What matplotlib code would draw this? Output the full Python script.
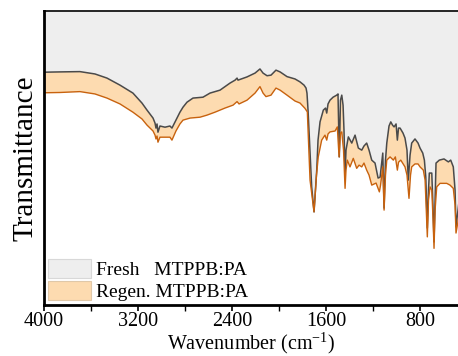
import numpy as np
import matplotlib.pyplot as plt
from matplotlib.patches import Patch
from matplotlib.ticker import MultipleLocator

plt.rcParams['font.family'] = ['Liberation Serif', 'DejaVu Serif']
plt.rcParams['mathtext.fontset'] = 'custom'
plt.rcParams['mathtext.rm'] = 'Liberation Serif'

# fresh MTPPB:PA spectrum (wavenumber, transmittance in arbitrary %)
wn_fresh = [4000, 3864, 3694, 3566, 3464, 3353, 3243, 3166, 3123, 3072, 3055, 3047, 3038, 3030,
            3013, 2970, 2928, 2911, 2877, 2843, 2817, 2783, 2732, 2647, 2587, 2502, 2417, 2374,
            2357, 2349, 2272, 2204, 2162, 2136, 2102, 2068, 2026, 1991, 1932, 1864, 1821, 1787,
            1770, 1762, 1753, 1722, 1702, 1679, 1668, 1651, 1623, 1604, 1594, 1583, 1566, 1540,
            1509, 1498, 1487, 1477, 1466, 1455, 1447, 1438, 1430, 1410, 1381, 1353, 1325, 1296,
            1277, 1254, 1234, 1211, 1183, 1157, 1140, 1117, 1106, 1094, 1083, 1064, 1049, 1034,
            1021, 1004, 993, 983, 970, 945, 928, 911, 900, 885, 871, 843, 817, 800, 777, 763,
            751, 738, 728, 721, 700, 689, 681, 672, 664, 636, 596, 559, 539, 517, 502, 494, 470]
t_fresh = [79.2, 79.3, 79.4, 78.6, 77.2, 74.8, 72.1, 68.7, 66.3, 63.6, 61.9, 60.2, 61.6, 58.8,
           60.9, 60.5, 60.9, 60.2, 62.9, 65.6, 67.3, 69.0, 70.4, 70.7, 72.1, 73.1, 75.5, 76.5,
           77.2, 76.5, 77.6, 78.9, 80.3, 78.9, 78.0, 78.2, 79.9, 79.3, 77.7, 76.9, 75.9, 74.8,
           73.8, 72.1, 66.3, 40.2, 31.7, 45.9, 56.1, 62.3, 66.3, 67.0, 65.3, 68.4, 69.7, 70.7,
           71.4, 71.8, 50.4, 69.7, 71.4, 68.0, 59.5, 44.2, 52.7, 57.2, 55.1, 57.8, 53.4, 52.7,
           54.1, 55.1, 52.7, 49.3, 48.3, 43.2, 43.5, 51.7, 33.0, 49.3, 55.1, 60.9, 62.3, 61.2,
           60.6, 61.6, 56.1, 60.2, 60.2, 58.5, 56.8, 52.7, 42.5, 51.0, 55.1, 56.5, 55.1, 53.4,
           51.7, 49.3, 43.5, 26.2, 39.1, 44.9, 44.9, 32.3, 21.5, 35.7, 48.3, 49.3, 49.7, 48.7,
           49.3, 47.0, 39.1, 26.6, 34.7]

# regenerated MTPPB:PA spectrum
wn_regen = [4000, 3864, 3694, 3566, 3464, 3353, 3243, 3166, 3123, 3072, 3055, 3047, 3038, 3030,
            3013, 2970, 2928, 2911, 2877, 2843, 2817, 2757, 2672, 2613, 2545, 2460, 2391, 2357,
            2340, 2272, 2204, 2162, 2136, 2111, 2068, 2026, 1991, 1932, 1864, 1821, 1779, 1759,
            1736, 1702, 1681, 1666, 1637, 1609, 1594, 1583, 1566, 1523, 1504, 1489, 1477, 1466,
            1451, 1438, 1430, 1419, 1396, 1368, 1339, 1319, 1296, 1277, 1254, 1234, 1211, 1174,
            1146, 1136, 1117, 1106, 1094, 1083, 1055, 1027, 1010, 993, 983, 964, 928, 911, 894,
            881, 871, 843, 817, 800, 772, 757, 738, 728, 715, 700, 689, 681, 672, 658, 630, 573,
            545, 517, 502, 494, 470]
t_regen = [72.2, 72.3, 72.6, 71.8, 70.4, 68.4, 65.6, 63.3, 61.2, 59.2, 57.8, 56.5, 57.5, 55.4,
           57.1, 57.1, 57.1, 56.1, 59.2, 61.6, 62.9, 63.6, 63.9, 64.6, 65.6, 67.0, 68.0, 69.2,
           68.4, 69.7, 72.1, 74.3, 72.1, 70.9, 71.4, 73.8, 73.1, 71.4, 69.4, 68.7, 66.9, 65.7,
           42.5, 31.7, 44.2, 50.4, 56.1, 57.8, 56.1, 58.2, 58.9, 59.2, 60.6, 50.4, 58.5, 58.9,
           52.7, 39.7, 45.9, 49.3, 47.0, 49.9, 46.5, 47.6, 47.0, 48.3, 45.9, 44.2, 40.8, 41.5,
           38.5, 40.8, 47.0, 32.3, 44.2, 49.3, 50.4, 49.3, 50.4, 45.9, 48.6, 49.3, 47.0, 44.2,
           36.3, 44.2, 47.0, 48.0, 48.0, 47.0, 45.9, 42.5, 23.2, 35.7, 40.2, 39.1, 28.9, 19.3,
           32.3, 40.2, 41.4, 41.4, 40.8, 39.7, 34.0, 24.5, 30.0]

wn_ticks = [4000, 3200, 2400, 1600, 800]

fig = plt.figure(figsize=(4.58, 3.56), dpi=100)
ax = fig.add_axes([0.096, 0.143, 0.904, 0.826])

ax.fill_between(wn_fresh, t_fresh, 100, color='#eeeeee', lw=0)
ax.fill(np.concatenate([wn_fresh, wn_regen[::-1]]),
        np.concatenate([t_fresh, t_regen[::-1]]), color='#fddbb0', lw=0)
ax.plot(wn_fresh, t_fresh, color='#4a4a4a', lw=1.1)
ax.plot(wn_regen, t_regen, color='#c8620e', lw=1.0)

ax.set_xlim(4000, 477)
ax.set_ylim(0, 100)
ax.set_xticks(wn_ticks)
ax.xaxis.set_minor_locator(MultipleLocator(400))
ax.tick_params(axis='x', which='major', length=4, width=1.2, labelsize=14.5, pad=1)
ax.tick_params(axis='x', which='minor', length=4, width=1.0)
ax.set_yticks([])

for s in ['left', 'bottom']:
    ax.spines[s].set_linewidth(2.0)
ax.spines['top'].set_linewidth(1.2)
ax.spines['right'].set_visible(False)

ax.set_xlabel('Wavenumber (cm$^{\\mathrm{-1}}$)', fontsize=14.5, labelpad=-0.5)
ax.set_ylabel('Transmittance', fontsize=21, labelpad=4)

handles = [Patch(facecolor='#eeeeee', edgecolor='#d8d8d8', lw=0.8),
           Patch(facecolor='#fddbb0', edgecolor='#e0c8a8', lw=0.8)]
ax.legend(handles, ['Fresh   MTPPB:PA', 'Regen. MTPPB:PA'], loc='lower left', frameon=False,
          fontsize=14, handlelength=2.2, handleheight=1.1, handletextpad=0.3,
          labelspacing=0.12, borderaxespad=0.1, borderpad=0.1)

fig.savefig('out.png', dpi=100)
